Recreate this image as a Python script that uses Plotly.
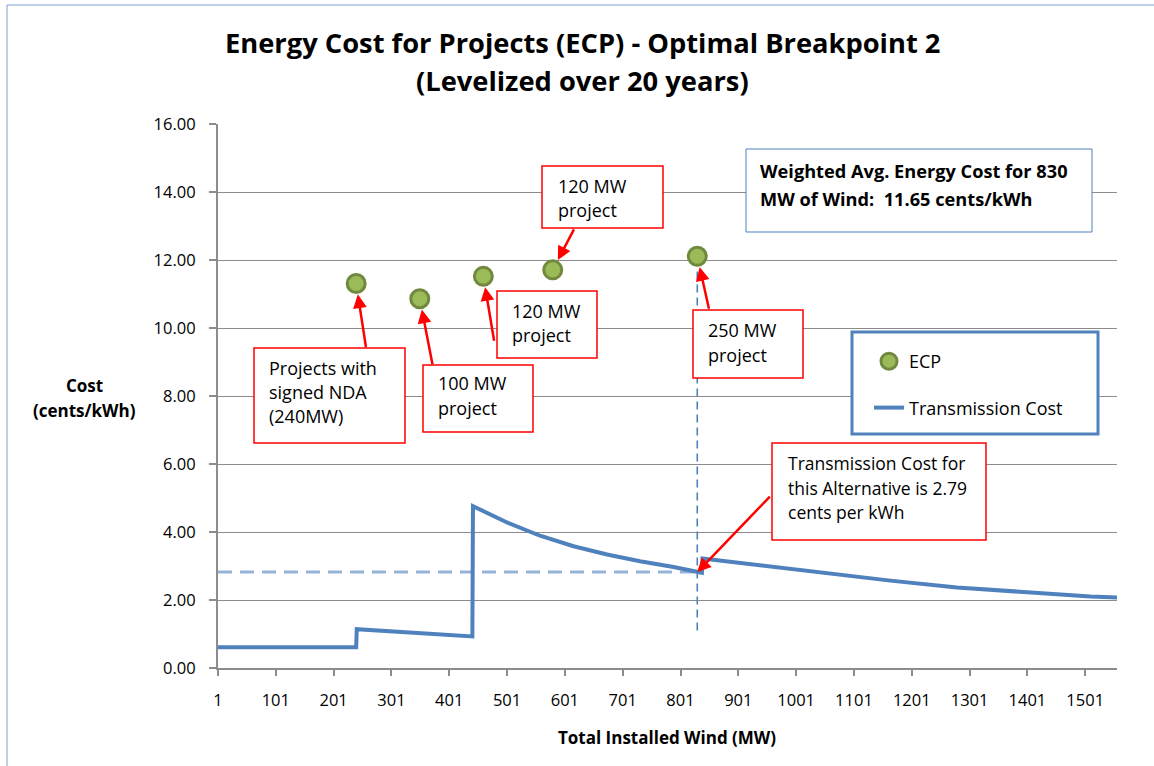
import plotly.graph_objects as go

# ECP points (cumulative MW, cents/kWh)
ecp_mw = [240, 350, 460, 580, 830]
ecp_cost = [11.31, 10.86, 11.52, 11.71, 12.11]

# transmission cost curve, read at break points
trans_mw = [1, 240, 241, 300, 340, 380, 441, 442, 501, 558, 616, 674, 731, 789, 832, 838, 839,
            933, 1048, 1164, 1279, 1395, 1510, 1556]
trans_cost = [0.61, 0.61, 1.14, 1.08, 1.03, 0.98, 0.93, 4.76, 4.28, 3.89, 3.58, 3.34, 3.14, 2.97,
              2.84, 2.80, 3.22, 3.03, 2.78, 2.57, 2.37, 2.22, 2.10, 2.07]

alt_mw = 830
alt_cost = 2.82
alt_vline = [1.1, 12.1]

x_ticks = list(range(1, 1502, 100))
y_ticks = [0, 2, 4, 6, 8, 10, 12, 14, 16]

W, H = 1154, 766
L, R, T, B = 218, 37, 124, 98
PW, PH = W - L - R, H - T - B
FONT = 'Open Sans'
BLUE = '#4F81BD'
RED = '#FF0000'
GRID = '#8C8C8C'


def fx(px):
    return (px - L) / PW


def fy(py):
    return (H - B - py) / PH


fig = go.Figure()

fig.add_trace(go.Scatter(
    x=[1, alt_mw], y=[alt_cost, alt_cost], mode='lines',
    line=dict(color='#95B3D7', width=3, dash='14px,8px'),
    showlegend=False, hoverinfo='skip'))
fig.add_trace(go.Scatter(
    x=[alt_mw, alt_mw], y=alt_vline, mode='lines',
    line=dict(color=BLUE, width=1.6, dash='8px,5px'),
    showlegend=False, hoverinfo='skip'))
fig.add_trace(go.Scatter(
    x=ecp_mw, y=ecp_cost, mode='markers', name='ECP',
    marker=dict(size=18, color='#9BBB59', line=dict(color='#71893F', width=3)),
    legendgroup='a'))
fig.add_trace(go.Scatter(
    x=trans_mw, y=trans_cost, mode='lines', name='Transmission Cost',
    line=dict(color=BLUE, width=4), legendgroup='b'))

shapes = []
annotations = []


def text_lines(lines, x, y, gap, size=18, bold=False, anchor='left'):
    for i, s in enumerate(lines):
        annotations.append(dict(
            xref='paper', yref='paper', x=fx(x), y=fy(y + i * gap),
            text='<b>%s</b>' % s if bold else s, showarrow=False,
            xanchor=anchor, yanchor='middle',
            font=dict(family=FONT, size=size, color='black')))


def box(x0, y0, x1, y1, color=RED, width=1.5):
    shapes.append(dict(type='rect', xref='paper', yref='paper',
                       x0=fx(x0), x1=fx(x1), y0=fy(y0), y1=fy(y1),
                       line=dict(color=color, width=width), fillcolor='white', layer='above'))


# outer border
shapes.append(dict(type='rect', xref='paper', yref='paper', x0=fx(7), y0=fy(5), x1=fx(1170), y1=fy(780),
                   line=dict(color='#7FA3D0', width=1), layer='below'))

# titles
text_lines(['Energy Cost for Projects (ECP) - Optimal Breakpoint 2', '(Levelized over 20 years)'],
           582, 43, 37, size=27.3, bold=True, anchor='center')
text_lines(['Cost', '(cents/kWh)'], 84, 385, 25, size=17, bold=True, anchor='center')
text_lines(['Total Installed Wind (MW)'], 667, 737, 0, size=17, bold=True, anchor='center')

# red callouts
box(254, 348, 405, 443)
text_lines(['Projects with', 'signed NDA', '(240MW)'], 267, 368, 24)
box(423, 365, 533, 432)
text_lines(['100 MW', 'project'], 436, 383, 25)
box(497, 291, 597, 358)
text_lines(['120 MW', 'project'], 510, 311, 24)
box(542, 166, 663, 228)
text_lines(['120 MW', 'project'], 556, 186, 24)
box(693, 310, 803, 378)
text_lines(['250 MW', 'project'], 706, 330, 25)
box(772, 443, 986, 540)
text_lines(['Transmission Cost for', 'this Alternative is 2.79', 'cents per kWh'], 786, 463, 24.5,
           size=17.5)

# weighted average box
box(746, 149, 1092, 232, color=BLUE, width=1)
text_lines(['Weighted Avg. Energy Cost for 830', 'MW of Wind:  11.65 cents/kWh'], 758, 171, 27.6,
           size=18.2, bold=True)

# legend frame
box(852, 332, 1098, 434, color=BLUE, width=3)

# arrows
tails = [(10, 65), (13, 67), (11, 66), (22, -42), (12, 54)]
for (mw, c), (ax, ay) in zip(zip(ecp_mw, ecp_cost), tails):
    annotations.append(dict(x=mw, y=c, xref='x', yref='y', ax=ax, ay=ay, text='',
                            showarrow=True, arrowhead=2, arrowsize=1.1, arrowwidth=2.5,
                            arrowcolor=RED, standoff=11))
annotations.append(dict(x=alt_mw, y=alt_cost, xref='x', yref='y', ax=74, ay=-77, text='',
                        showarrow=True, arrowhead=2, arrowsize=1.1, arrowwidth=2.5,
                        arrowcolor=RED, standoff=0))

fig.update_layout(
    width=W, height=H,
    margin=dict(l=L, r=R, t=T, b=B),
    paper_bgcolor='white', plot_bgcolor='white',
    font=dict(family=FONT, size=16.5, color='black'),
    shapes=shapes, annotations=annotations,
    showlegend=True,
    legend=dict(x=fx(869), y=fy(343), xanchor='left', yanchor='top',
                bgcolor='rgba(0,0,0,0)', borderwidth=0,
                font=dict(family=FONT, size=18, color='black'),
                traceorder='grouped', tracegroupgap=20),
    xaxis=dict(range=[1, 1556], tickvals=x_ticks, showgrid=False, zeroline=False,
               showline=True, linecolor=GRID, linewidth=2,
               ticks='outside', ticklen=6, tickcolor=GRID, tickwidth=1.5,
               ticklabelstandoff=10, tickfont=dict(size=16.5)),
    yaxis=dict(range=[0, 16], tickvals=y_ticks, tickformat='.2f', showgrid=True,
               gridcolor=GRID, gridwidth=1, zeroline=False,
               showline=True, linecolor=GRID, linewidth=2,
               ticks='outside', ticklen=7, tickcolor=GRID, tickwidth=1.5,
               ticklabelstandoff=10, tickfont=dict(size=16.5)),
)

# page body has an 8px default margin; remove it so the figure sits at the window origin
fig.write_html("out.html", config={'displayModeBar': False},
               post_script="document.body.style.margin='0';")
